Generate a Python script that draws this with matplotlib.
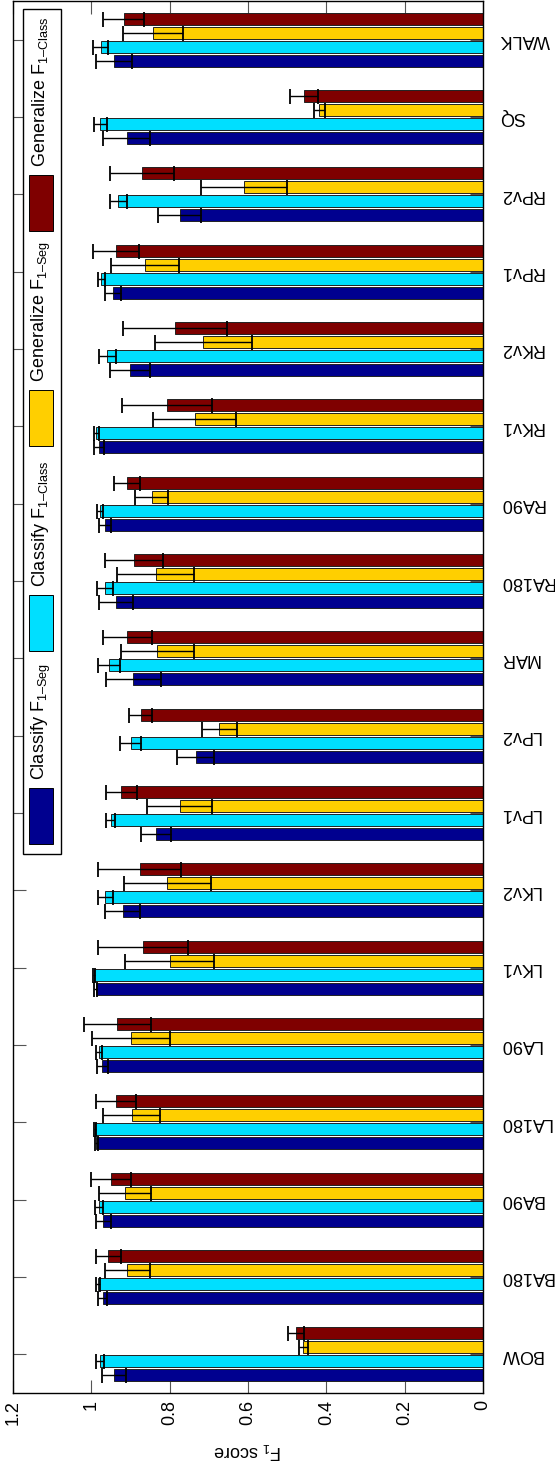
import matplotlib
matplotlib.use('Agg')
import matplotlib.pyplot as plt
from matplotlib.patches import Rectangle
from matplotlib.transforms import Affine2D
import numpy as np

plt.rcParams['font.family'] = ['Liberation Sans', 'DejaVu Sans']
plt.rcParams['mathtext.fontset'] = 'custom'
plt.rcParams['mathtext.rm'] = 'Liberation Sans'
plt.rcParams['mathtext.it'] = 'Liberation Sans:italic'

# atividades (de baixo para cima)
atividades = ['BOW', 'BA180', 'BA90', 'LA180', 'LA90', 'LKv1', 'LKv2', 'LPv1', 'LPv2',
              'MAR', 'RA180', 'RA90', 'RKv1', 'RKv2', 'RPv1', 'RPv2', 'SQ', 'WALK']

classify_seg = [0.942, 0.971, 0.970, 0.987, 0.972, 0.989, 0.920, 0.834, 0.734,
                0.893, 0.937, 0.966, 0.980, 0.902, 0.944, 0.774, 0.910, 0.942]
classify_seg_err = [0.030, 0.012, 0.019, 0.004, 0.014, 0.003, 0.044, 0.038, 0.047,
                    0.070, 0.043, 0.015, 0.013, 0.051, 0.021, 0.055, 0.059, 0.047]

classify_class = [0.978, 0.984, 0.981, 0.991, 0.981, 0.993, 0.964, 0.951, 0.900,
                  0.955, 0.965, 0.978, 0.987, 0.959, 0.975, 0.931, 0.977, 0.976]
classify_class_err = [0.010, 0.005, 0.010, 0.003, 0.008, 0.003, 0.020, 0.012, 0.026,
                      0.029, 0.020, 0.008, 0.006, 0.022, 0.009, 0.021, 0.017, 0.019]

general_seg = [0.459, 0.908, 0.914, 0.897, 0.899, 0.800, 0.806, 0.774, 0.673,
               0.832, 0.836, 0.846, 0.736, 0.714, 0.863, 0.610, 0.418, 0.842]
general_seg_err = [0.011, 0.057, 0.066, 0.072, 0.099, 0.114, 0.111, 0.083, 0.045,
                   0.093, 0.099, 0.043, 0.106, 0.123, 0.087, 0.109, 0.014, 0.077]

general_class = [0.478, 0.957, 0.950, 0.936, 0.934, 0.868, 0.876, 0.923, 0.874,
                 0.908, 0.891, 0.908, 0.806, 0.787, 0.937, 0.870, 0.457, 0.917]
general_class_err = [0.020, 0.032, 0.051, 0.051, 0.086, 0.116, 0.106, 0.040, 0.030,
                     0.062, 0.075, 0.033, 0.115, 0.133, 0.059, 0.082, 0.035, 0.052]

series = [
    ('Classify F$_{\\mathregular{1\u2013Seg}}$', classify_seg, classify_seg_err, '#00008f'),
    ('Classify F$_{\\mathregular{1\u2013Class}}$', classify_class, classify_class_err, '#00dfff'),
    ('Generalize F$_{\\mathregular{1\u2013Seg}}$', general_seg, general_seg_err, '#ffcf00'),
    ('Generalize F$_{\\mathregular{1\u2013Class}}$', general_class, general_class_err, '#7f0000'),
]

W, H = 555, 1467
fig = plt.figure(figsize=(W / 100, H / 100), dpi=100)
ax = fig.add_axes([13 / W, 74 / H, 470 / W, 1392 / H])

y = np.arange(len(atividades))
passo = 0.18
altura = 0.155
for k, (nome, vals, errs, cor) in enumerate(series):
    pos = y + (k - 1.5) * passo
    ax.barh(pos, vals, height=altura, color=cor, edgecolor='#222222', linewidth=0.7, zorder=2)
for k, (nome, vals, errs, cor) in enumerate(series):
    pos = y + (k - 1.5) * passo
    ax.errorbar(vals, pos, xerr=errs, fmt='none', ecolor='black', elinewidth=1.0,
                capsize=5.4, capthick=1.3, zorder=3)

ax.set_xlim(1.2, 0)
ax.set_ylim(-0.5, len(atividades) - 0.5)

ax.set_xticks([0, 0.2, 0.4, 0.6, 0.8, 1.0, 1.2])
ax.set_xticklabels(['0', '0.2', '0.4', '0.6', '0.8', '1', '1.2'], rotation=90)
ax.tick_params(axis='x', direction='in', top=True, bottom=True, length=9.7,
               width=0.8, color='#555555', pad=5, labelsize=13)

ax.set_yticks(y)
ax.set_yticklabels(atividades, rotation=180)
ax.tick_params(axis='y', direction='in', left=True, right=True, labelleft=False,
               labelright=True, length=9.7, width=0.8, color='#555555', pad=12, labelsize=13)
for lbl in ax.get_yticklabels():
    lbl.set_va('center')
    lbl.set_ha('left')

for s in ax.spines.values():
    s.set_linewidth(1.0)
    s.set_color('black')

ax.set_xlabel('F$_\\mathregular{1}$ score', rotation=180, fontsize=13, va='center')
ax.xaxis.set_label_coords(0.5, -0.0417)

# legenda desenhada à mão (texto vertical)
px = Affine2D().scale(1 / W, -1 / H).translate(0, 1) + fig.transFigure
fig.add_artist(Rectangle((22.5, 9), 38.5, 845, transform=px, facecolor='white',
                         edgecolor='black', linewidth=1.0, zorder=5))
topos = [788, 595, 390, 175]
for (nome, vals, errs, cor), topo in zip(series, topos):
    fig.add_artist(Rectangle((29, topo), 23.7, 56, transform=px, facecolor=cor,
                             edgecolor='black', linewidth=0.7, zorder=6))
    fig.text(45, topo - 8, nome, transform=px, rotation=90, rotation_mode='anchor',
             ha='left', va='baseline', fontsize=13, zorder=7)

plt.savefig('out.png', dpi=100)
